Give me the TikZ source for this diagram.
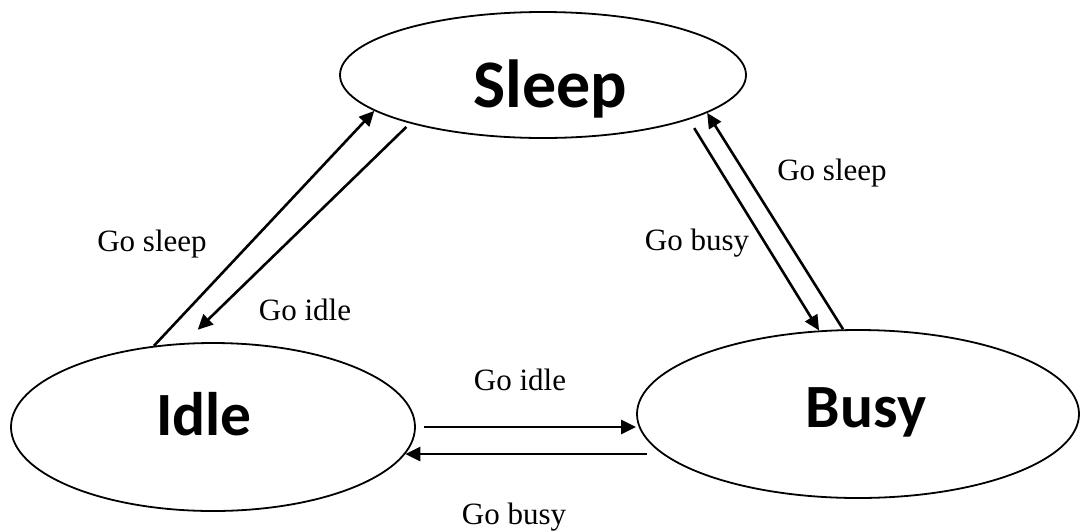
\documentclass[tikz,border=0pt]{standalone}
\usepackage{fontspec}
\setmainfont{Liberation Serif}
\newfontfamily\statefont{Carlito}
\usetikzlibrary{shapes.geometric,arrows.meta}

\tikzset{
  state/.style={ellipse, draw, line width=0.9pt, inner sep=0pt, text depth=0pt,
    font=\statefont\bfseries\fontsize{30.75pt}{36pt}\selectfont},
  trans/.style={line width=1.3pt, -{Triangle[length=7.5pt,width=7pt]}},
  lbl/.style={anchor=base, inner sep=0pt, font=\fontsize{15.5pt}{18pt}\selectfont},
}

\begin{document}
\begin{tikzpicture}[x=0.5pt,y=-0.5pt]
  \useasboundingbox (0,0) rectangle (1081,531);

  %%% states
  \node[state, minimum width=203pt, minimum height=63pt, text height=32pt,
    font=\statefont\bfseries\fontsize{34pt}{40pt}\selectfont] (sleep) at (543,75) {\hspace*{7pt}Sleep};
  \node[state, minimum width=202pt, minimum height=84pt, text height=8pt] (idle) at (213,427) {Idle\hspace*{9pt}};
  \node[state, minimum width=221pt, minimum height=84pt, text height=13pt] (busy) at (858,414) {\hspace*{8pt}Busy};

  %%% Idle <-> Sleep
  \draw[trans] (idle.126) -- (sleep.192.7);
  \draw[trans, shorten <=2.5pt, shorten >=9.5pt] (sleep.200.6) -- (idle.109.3);
  \node[lbl] (gosleepL) at (152,251) {Go sleep};
  \node[lbl] (goidleL) at (305,320) {Go idle};

  %%% Sleep <-> Busy
  \draw[trans, shorten <=5pt] (sleep.343.5) -- (busy.115.5);
  \draw[trans] (busy.100.1) -- (sleep.347.3);
  \node[lbl] (gobusyR) at (697,250) {Go busy};
  \node[lbl] (gosleepR) at (832,180) {Go sleep};

  %%% Idle <-> Busy
  \draw[trans, shorten <=4pt] (idle.east) -- (idle.east -| busy.west);
  \draw[trans, shorten <=-5.5pt] (idle.-8.3 -| busy.west) -- (idle.-8.3);
  \node[lbl] (goidleM) at (520,390) {Go idle};
  \node[lbl] (gobusyM) at (514,524) {Go busy};
\end{tikzpicture}
\end{document}
